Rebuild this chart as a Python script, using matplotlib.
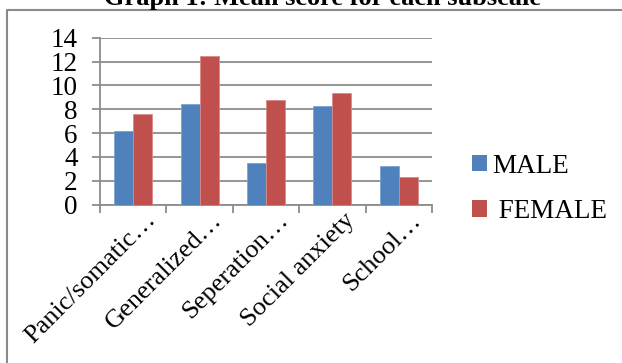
import matplotlib
matplotlib.use("Agg")
import matplotlib.pyplot as plt
import matplotlib.transforms as mtransforms
from matplotlib.lines import Line2D
from matplotlib.patches import Patch
import numpy as np

# Data
categories = ["Panic/somatic\u2026", "Generalized\u2026", "Seperation\u2026",
              "Social anxiety", "School\u2026"]
male = [6.2, 8.4, 3.5, 8.3, 3.2]
female = [7.6, 12.5, 8.8, 9.4, 2.3]
series_names = ["MALE", " FEMALE"]
yticks = [0, 2, 4, 6, 8, 10, 12, 14]
title = "Graph 1: Mean score for each subscale"

BLUE = "#4F81BD"
RED = "#C0504D"
GRID = "#8C8C8C"
FONT = "Liberation Serif"
FS = 19

plt.rcParams["font.family"] = [FONT, "DejaVu Serif"]

W, H = 622, 363
fig = plt.figure(figsize=(W / 100, H / 100), dpi=100)

# chart area border (continues past the right and bottom edges)
fig.add_artist(Line2D([7.5 / W, 7.5 / W, 1.0], [0.0, 1 - 10 / H, 1 - 10 / H],
                      transform=fig.transFigure, color="#8A8A8A", lw=1.5))

# title, partly above the visible area
fig.text(322.5 / W, 1 - 5 / H, title, ha="center", va="baseline",
         fontsize=FS, fontweight="bold", family=FONT)

ax = fig.add_axes([100 / W, 1 - 204.5 / H, 332 / W, 166.8 / H])

x = np.arange(len(categories))
bw = 0.286
ax.bar(x - bw / 2, male, bw, color=BLUE, edgecolor="#7FA3D3", lw=0.6, zorder=3)
ax.bar(x + bw / 2, female, bw, color=RED, edgecolor="#D98A88", lw=0.6, zorder=3)

ax.set_xlim(-0.5, len(categories) - 0.5)
ax.set_ylim(0, 14)
ax.set_yticks(yticks)
ax.set_yticklabels([str(v) for v in yticks])
ax.set_xticks(np.arange(len(categories) + 1) - 0.5)
ax.set_xticklabels([])

ax.grid(axis="y", color=GRID, lw=1.3, zorder=0)
ax.set_axisbelow(True)
for s in ("top", "right"):
    ax.spines[s].set_visible(False)
for s in ("left", "bottom"):
    ax.spines[s].set_color(GRID)
    ax.spines[s].set_linewidth(1.3)
ax.tick_params(axis="both", color=GRID, width=1.3, length=6, direction="out")
ax.tick_params(axis="y", labelsize=FS + 0.5, pad=10)
for lbl in ax.get_yticklabels():
    lbl.set_family(FONT)

# rotated category labels
offset = mtransforms.ScaledTranslation(23 / 100, -16.5 / 100, fig.dpi_scale_trans)
trans = ax.get_xaxis_transform() + offset
for xi, name in zip(x, categories):
    ax.text(xi, 0, name, transform=trans, rotation=45, rotation_mode="anchor",
            ha="right", va="baseline", fontsize=FS, family=FONT)

handles = [Patch(facecolor=BLUE, edgecolor="none"),
           Patch(facecolor=RED, edgecolor="none")]
fig.legend(handles, series_names, loc="center left",
           bbox_to_anchor=(472 / W, 1 - 189 / H), frameon=False,
           prop={"family": FONT, "size": FS + 0.5},
           handlelength=0.55, handleheight=0.55, handletextpad=0.2,
           labelspacing=0.75, borderaxespad=0, borderpad=0)

fig.savefig("out.png", dpi=100)
